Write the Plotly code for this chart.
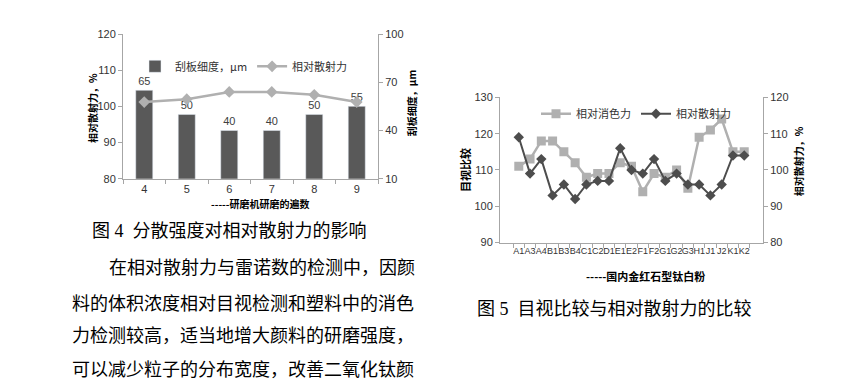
import plotly.graph_objects as go

W, H = 846, 385


def px(x):
    return x / W


def py(y):
    return 1 - y / H


# ---- Figure 4 data ----
passes = ["4", "5", "6", "7", "8", "9"]
fineness = [65, 50, 40, 40, 50, 55]
scatter_power_1 = [101.2, 102, 104, 104, 103.2, 101.2]

# ---- Figure 5 data ----
samples = ["A1", "A3", "A4", "B1", "B3", "B4", "C1", "C2", "D1", "E1", "E2",
           "F1", "F2", "G1", "G2", "G3", "H1", "J1", "J2", "K1", "K2"]
tinting = [111, 113, 118, 118, 115, 112, 108, 109, 109, 112, 111,
           104, 109, 108, 110, 105, 119, 121, 124, 115, 115]
scatter_power_2 = [109, 99, 103, 93, 96, 92, 96, 97, 97, 106, 100,
                   99, 103, 97, 99, 96, 96, 93, 96, 104, 104]

AX = "#a6a6a6"
TICKF = dict(family="Liberation Sans, Arial", size=11, color="#333333")
CJK = "Noto Sans CJK SC"
LIGHT = "#b0b0b0"
DARK = "#4d4d4d"

fig = go.Figure()

fig.add_trace(go.Bar(
    x=passes, y=fineness, name="刮板细度，μm", marker_color="#595959",
    width=0.4, text=[str(v) for v in fineness], textposition="outside",
    textfont=dict(family="Liberation Sans, Arial", size=11, color="#404040"),
    cliponaxis=False, xaxis="x", yaxis="y", legend="legend",
))
fig.add_trace(go.Scatter(
    x=passes, y=scatter_power_1, name="相对散射力", mode="lines+markers",
    line=dict(color=LIGHT, width=2.5),
    marker=dict(symbol="diamond", size=9, color=LIGHT),
    xaxis="x", yaxis="y2", legend="legend",
))

fig.add_trace(go.Scatter(
    x=samples, y=tinting, name="相对消色力", mode="lines+markers",
    line=dict(color=LIGHT, width=2.5),
    marker=dict(symbol="square", size=9, color=LIGHT),
    xaxis="x2", yaxis="y3", legend="legend2",
))
fig.add_trace(go.Scatter(
    x=samples, y=scatter_power_2, name="相对散射力", mode="lines+markers",
    line=dict(color=DARK, width=2),
    marker=dict(symbol="diamond", size=8, color=DARK),
    xaxis="x2", yaxis="y4", legend="legend2",
))

common = dict(showline=True, linecolor=AX, linewidth=1, ticks="outside",
              tickcolor=AX, ticklen=4, showgrid=False, zeroline=False,
              tickfont=TICKF)

fig.update_layout(
    width=W, height=H, margin=dict(l=0, r=0, t=0, b=0),
    paper_bgcolor="white", plot_bgcolor="white",
    showlegend=True,
    xaxis=dict(domain=[px(115), px(370)], anchor="y", type="category",
               tickson="boundaries", tickangle=0, **common),
    yaxis=dict(domain=[py(170), py(20.7)], anchor="x", side="right",
               range=[10, 100], tick0=10, dtick=30, **common),
    yaxis2=dict(overlaying="y", anchor="x", side="left",
                range=[80, 120], dtick=10, **common),
    xaxis2=dict(domain=[px(492), px(755)], anchor="y3", type="category",
                tickson="boundaries", tickangle=0, dtick=1,
                **{**common, "tickfont": dict(family="Liberation Sans, Arial", size=9, color="#333333")}),
    yaxis3=dict(domain=[py(236), py(86)], anchor="x2", side="left",
                range=[90, 130], dtick=10, **common),
    yaxis4=dict(overlaying="y3", anchor="x2", side="right",
                range=[80, 120], dtick=10, **common),
    legend=dict(orientation="h", x=px(236), xanchor="center", y=py(54),
                yanchor="middle", bgcolor="rgba(0,0,0,0)",
                font=dict(family=CJK, size=11, color="#333333"),
                itemwidth=30, tracegroupgap=0),
    legend2=dict(orientation="h", x=px(628), xanchor="center", y=py(103),
                 yanchor="middle", bgcolor="rgba(0,0,0,0)",
                 font=dict(family=CJK, size=11, color="#333333"),
                 itemwidth=30, tracegroupgap=0),
)

ann = []


def add_text(text, x, y, size, angle=0, xanchor="center", bold=False,
             family=CJK, color="#000000"):
    ann.append(dict(text=f"<b>{text}</b>" if bold else text,
                    x=px(x), y=py(y), xref="paper", yref="paper",
                    xanchor=xanchor, yanchor="middle", showarrow=False,
                    textangle=angle,
                    font=dict(family=family, size=size, color=color)))


# axis titles
add_text("相对散射力，%", 85, 97, 10, angle=-90, bold=True)
add_text("刮板细度，μm", 403, 92, 10, angle=-90, bold=True)
add_text("-----研磨机研磨的遍数", 252, 196, 10, bold=True)
add_text("目视比较", 457, 161, 11, angle=-90, bold=True)
add_text("相对散射力，%", 790, 152, 10, angle=-90, bold=True)
add_text("-----国内金红石型钛白粉", 637, 270, 11, bold=True)

# captions and body text
SERIF = "Liberation Serif, " + CJK
add_text("图 4  分散强度对相对散射力的影响", 82, 224, 18, xanchor="left", family=SERIF)
add_text("图 5  目视比较与相对散射力的比较", 467, 305, 18, xanchor="left", family=SERIF)
add_text("在相对散射力与雷诺数的检测中，因颜", 99, 260, 18, xanchor="left")
add_text("料的体积浓度相对目视检测和塑料中的消色", 62, 297, 18, xanchor="left")
add_text("力检测较高，适当地增大颜料的研磨强度，", 62, 330, 18, xanchor="left")
add_text("可以减少粒子的分布宽度，改善二氧化钛颜", 62, 365, 18, xanchor="left")

fig.update_layout(annotations=ann)

fig.write_html("out.html")
